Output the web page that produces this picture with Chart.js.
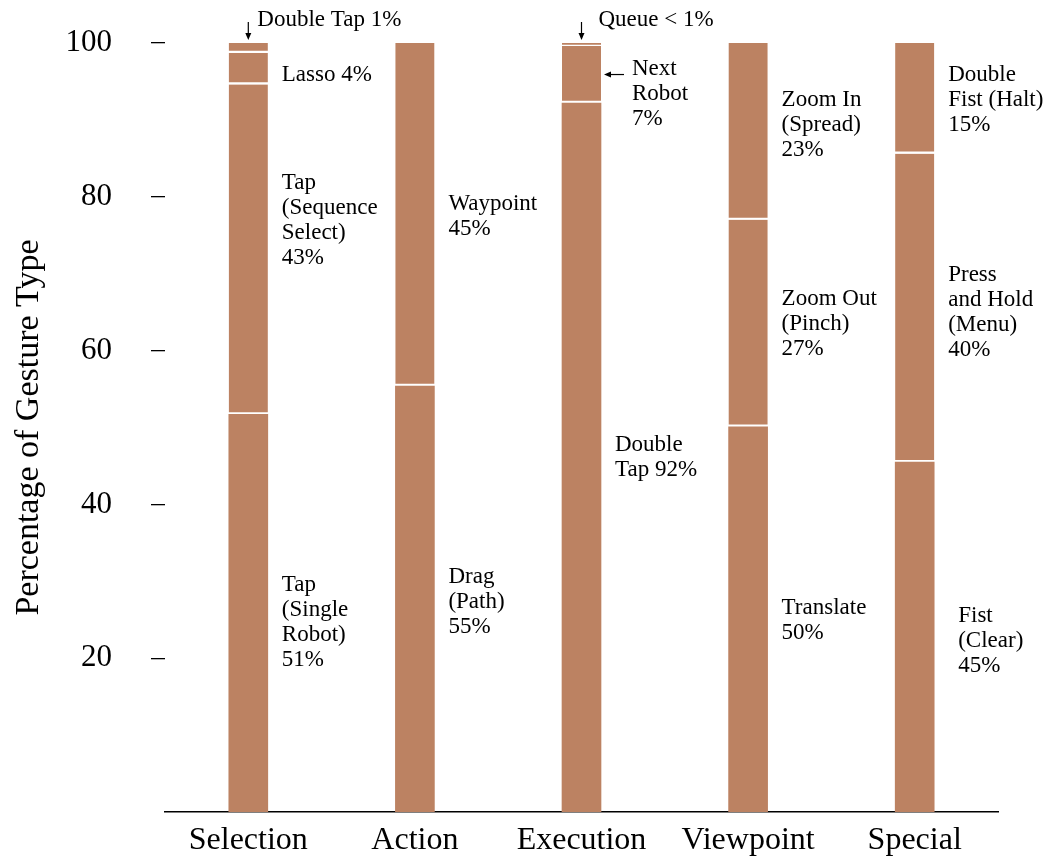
<!DOCTYPE html>
<html>
<head>
<meta charset="utf-8">
<script src="https://cdn.jsdelivr.net/npm/chart.js@4.4.0/dist/chart.umd.min.js"></script>
<style>
  html, body { margin: 0; padding: 0; background: #fff; }
</style>
</head>
<body>
<canvas id="chart" width="1060" height="856"></canvas>
<script>
const categories = ['Selection', 'Action', 'Execution', 'Viewpoint', 'Special'];
const yTicks = [20, 40, 60, 80, 100];

// percentage of each gesture, stacked from the bottom layer up
const layer1 = [51.7, 55.4, 92.2, 50.1, 45.5];
const layer2 = [42.9, 44.6, 7.4, 26.9, 40.1];
const layer3 = [4.1, null, 0.4, 23.0, 14.4];
const layer4 = [1.3, null, null, null, null];

const layer1Labels = [['Tap', '(Single', 'Robot)', '51%'], ['Drag', '(Path)', '55%'], ['Double', 'Tap 92%'], ['Translate', '50%'], ['Fist', '(Clear)', '45%']];
const layer2Labels = [['Tap', '(Sequence', 'Select)', '43%'], ['Waypoint', '45%'], ['Next', 'Robot', '7%'], ['Zoom Out', '(Pinch)', '27%'], ['Press', 'and Hold', '(Menu)', '40%']];
const layer3Labels = [['Lasso 4%'], null, ['Queue < 1%'], ['Zoom In', '(Spread)', '23%'], ['Double', 'Fist (Halt)', '15%']];
const layer4Labels = [['Double Tap 1%'], null, null, null, null];

const layers = [layer1, layer2, layer3, layer4];
const layerLabels = [layer1Labels, layer2Labels, layer3Labels, layer4Labels];

const barColor = '#BC8262';
const serif = '"Liberation Serif", "Times New Roman", serif';
const LINE = 25;

// nudges for labels that don't sit at the middle of their segment
const labelStyle = {
  '0-0': { dy: 9 }, '1-0': { dy: -29 }, '2-0': { dy: 6 }, '3-0': { callout: 'top' },
  '0-1': { dy: 3 }, '1-1': { dy: 2 },
  '1-2': { callout: 'left', dx: 17, dy: 19 }, '2-2': { callout: 'top', dx: 8 },
  '2-3': { dy: -6 }, '1-3': { dy: 1 }, '0-3': { dy: 1 },
  '0-4': { dx: 10, dy: 4 }, '1-4': { dy: 5 }, '2-4': { dy: 2 }
};

function arrow(ctx, x1, y1, x2, y2) {
  const a = Math.atan2(y2 - y1, x2 - x1);
  ctx.beginPath();
  ctx.moveTo(x1, y1);
  ctx.lineTo(x2 - 5 * Math.cos(a), y2 - 5 * Math.sin(a));
  ctx.stroke();
  ctx.beginPath();
  ctx.moveTo(x2, y2);
  ctx.lineTo(x2 - 7 * Math.cos(a) + 3 * Math.sin(a), y2 - 7 * Math.sin(a) - 3 * Math.cos(a));
  ctx.lineTo(x2 - 7 * Math.cos(a) - 3 * Math.sin(a), y2 - 7 * Math.sin(a) + 3 * Math.cos(a));
  ctx.closePath();
  ctx.fill();
}

const segmentLabels = {
  id: 'segmentLabels',
  afterDatasetsDraw(chart) {
    const ctx = chart.ctx;
    const top = chart.scales.y.getPixelForValue(100);
    ctx.save();
    ctx.font = '23px ' + serif;
    ctx.fillStyle = '#000';
    ctx.strokeStyle = '#000';
    ctx.lineWidth = 1.2;
    ctx.textAlign = 'left';
    ctx.textBaseline = 'middle';
    layerLabels.forEach((row, i) => {
      const meta = chart.getDatasetMeta(i);
      row.forEach((lines, j) => {
        if (!lines) return;
        const bar = meta.data[j];
        const right = bar.x + bar.width / 2;
        const mid = (bar.y + bar.base) / 2;
        const s = labelStyle[i + '-' + j] || {};
        if (s.callout === 'top') {
          arrow(ctx, bar.x, top - 21, bar.x, top - 3);
          ctx.fillText(lines[0], bar.x + 9 + (s.dx || 0), top - 23);
          return;
        }
        const x = right + 14 + (s.dx || 0);
        const y0 = mid + (s.dy || 0) - (lines.length - 1) * LINE / 2;
        lines.forEach((t, k) => ctx.fillText(t, x, y0 + k * LINE));
        if (s.callout === 'left') arrow(ctx, right + 23, mid, right + 3, mid);
      });
    });
    ctx.restore();
  }
};

new Chart(document.getElementById('chart'), {
  type: 'bar',
  data: {
    labels: categories,
    datasets: layers.map((values, i) => ({
      data: values,
      backgroundColor: barColor,
      borderColor: '#fff',
      borderWidth: i === 0 ? 0 : { bottom: 2.5 },
      borderSkipped: false,
      barThickness: 39
    }))
  },
  options: {
    responsive: false,
    animation: false,
    layout: { padding: { top: 43, right: 62, left: 0, bottom: 0 } },
    plugins: { legend: { display: false }, tooltip: { enabled: false } },
    scales: {
      x: {
        stacked: true,
        grid: { display: false, drawTicks: false },
        border: { display: true, color: '#000', width: 1.5 },
        ticks: { padding: 9, color: '#000', font: { family: serif, size: 32 } },
        afterFit: s => { s.height = 44; }
      },
      y: {
        stacked: true,
        min: 0,
        max: 100,
        afterBuildTicks: s => { s.ticks = yTicks.map(v => ({ value: v })); },
        afterFit: s => { s.width = 165; s.paddingTop = 0; s.paddingBottom = 0; },
        border: { display: false },
        grid: { drawOnChartArea: false, drawTicks: true, tickLength: 14, color: '#000', lineWidth: 1.3 },
        ticks: { padding: 39, color: '#000', font: { family: serif, size: 31 } },
        title: {
          display: true,
          text: 'Percentage of Gesture Type',
          color: '#000',
          font: { family: serif, size: 34 },
          padding: { top: 9, bottom: 0 }
        }
      }
    }
  },
  plugins: [segmentLabels]
});
</script>
</body>
</html>
